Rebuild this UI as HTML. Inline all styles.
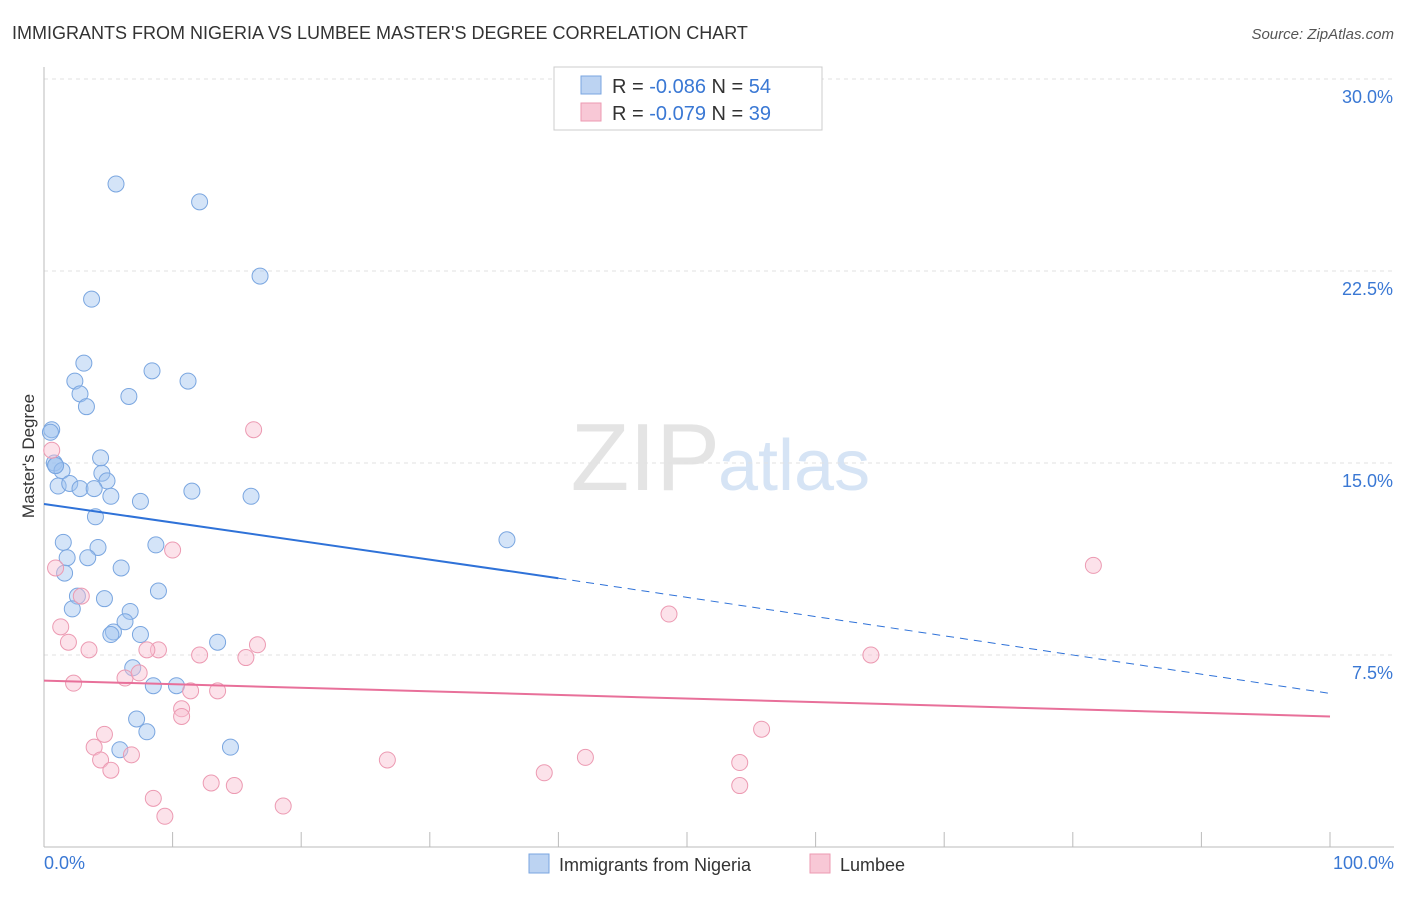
<!DOCTYPE html>
<html><head><meta charset="utf-8">
<style>
body{margin:0;background:#fff;font-family:"Liberation Sans",sans-serif;}
svg text{font-family:"Liberation Sans",sans-serif;}
</style></head>
<body>
<svg id="chart" width="1406" height="892" xmlns="http://www.w3.org/2000/svg">
<text x="12" y="39" font-size="18" fill="#333">IMMIGRANTS FROM NIGERIA VS LUMBEE MASTER'S DEGREE CORRELATION CHART</text>
<text x="1394" y="39" font-size="15" fill="#555" font-style="italic" text-anchor="end">Source: ZipAtlas.com</text>
<text x="720" y="490" font-size="96" fill="#e4e4e4" text-anchor="end" font-family="Liberation Serif">ZIP</text>
<text x="718" y="490" font-size="72" fill="#d6e4f5">atlas</text>
<g id="grid"></g>
<g id="axes"></g>
<g id="marks"></g>
<text transform="translate(34,456) rotate(-90)" font-size="17" fill="#333" text-anchor="middle">Master's Degree</text>
<text x="44" y="869" font-size="18" fill="#3a78d4">0.0%</text>
<text x="1394" y="869" font-size="18" fill="#3a78d4" text-anchor="end">100.0%</text>
<g>
<rect x="554" y="67" width="268" height="63" fill="#fff" stroke="#ccc"/>
<rect x="581" y="76" width="20" height="18" fill="#bcd3f2" stroke="#7aa6e0"/>
<text x="612" y="93" font-size="20" fill="#333">R = <tspan fill="#3a78d4">-0.086</tspan>   N = <tspan fill="#3a78d4">54</tspan></text>
<rect x="581" y="103" width="20" height="18" fill="#f8c8d6" stroke="#ec9ab2"/>
<text x="612" y="120" font-size="20" fill="#333">R = <tspan fill="#3a78d4">-0.079</tspan>   N = <tspan fill="#3a78d4">39</tspan></text>
</g>
<g>
<rect x="529" y="854" width="20" height="19" fill="#bcd3f2" stroke="#7aa6e0"/>
<text x="559" y="871" font-size="18" fill="#333">Immigrants from Nigeria</text>
</g>
<g>
<rect x="810" y="854" width="20" height="19" fill="#f8c8d6" stroke="#ec9ab2"/>
<text x="840" y="871" font-size="18" fill="#333">Lumbee</text>
</g>
</svg>
<script>
const yTicks=[7.5,15,22.5,30];
const yTickLabels=["7.5%","15.0%","22.5%","30.0%"];
const xTicks=[0,10,20,30,40,50,60,70,80,90,100];
const nigeriaX=[5.6,12.1,16.8,3.7,3.1,2.4,8.4,11.2,2.8,6.6,3.3,0.6,0.5,0.8,0.9,1.4,4.4,4.5,4.9,1.1,2.0,2.8,3.9,5.2,7.5,11.5,16.1,4.0,36.0,1.5,1.8,4.2,3.4,8.7,1.6,6.0,8.9,2.6,4.7,2.2,6.7,6.3,5.4,5.2,7.5,13.5,6.9,8.5,10.3,7.2,8.0,5.9,14.5,0.9];
const nigeriaY=[25.9,25.2,22.3,21.4,18.9,18.2,18.6,18.2,17.7,17.6,17.2,16.3,16.2,15.0,14.9,14.7,15.2,14.6,14.3,14.1,14.2,14.0,14.0,13.7,13.5,13.9,13.7,12.9,12.0,11.9,11.3,11.7,11.3,11.8,10.7,10.9,10.0,9.8,9.7,9.3,9.2,8.8,8.4,8.3,8.3,8.0,7.0,6.3,6.3,5.0,4.5,3.8,3.9,14.9];
const lumbeeX=[16.3,0.6,0.9,10.0,2.9,1.3,1.9,3.5,8.9,8.0,12.1,15.7,16.6,48.6,81.6,64.3,2.3,6.3,7.4,11.4,13.5,10.7,10.7,4.7,3.9,4.4,6.8,5.2,26.7,42.1,38.9,55.8,54.1,54.1,13.0,14.8,18.6,8.5,9.4];
const lumbeeY=[16.3,15.5,10.9,11.6,9.8,8.6,8.0,7.7,7.7,7.7,7.5,7.4,7.9,9.1,11.0,7.5,6.4,6.6,6.8,6.1,6.1,5.4,5.1,4.4,3.9,3.4,3.6,3.0,3.4,3.5,2.9,4.6,3.3,2.4,2.5,2.4,1.6,1.9,1.2];
const nigeriaTrend=[13.4,10.5,6.0]; // at x=0, solid end, 100
const nigeriaSolidEnd=40;
const lumbeeTrend=[6.5,5.1];

const X0=44,X1=1330,Y0=847,YS=25.6;
const sx=v=>X0+(X1-X0)*v/100;
const sy=v=>Y0-v*YS;
const NS="http://www.w3.org/2000/svg";
function mk(tag,attrs,parent){const e=document.createElementNS(NS,tag);for(const k in attrs)e.setAttribute(k,attrs[k]);parent.appendChild(e);return e;}
const grid=document.getElementById('grid'),axes=document.getElementById('axes'),marks=document.getElementById('marks');
yTicks.forEach((t,i)=>{
 const l=mk('line',{x1:X0,x2:1394,y1:sy(t),y2:sy(t),stroke:'#e2e2e2','stroke-dasharray':'4,4'},grid);
 
 
 const tx=mk('text',{x:1393,y:sy(t)+24,'font-size':18,fill:'#3a78d4','text-anchor':'end'},grid);
 tx.textContent=yTickLabels[i];
 
 
});
const ax=mk('line',{x1:X0,x2:X0,y1:67,y2:Y0,stroke:'#bbb'},axes);


const bx=mk('line',{x1:X0,x2:1394,y1:Y0,y2:Y0,stroke:'#bbb'},axes);


xTicks.forEach(t=>{
 const l=mk('line',{x1:sx(t),x2:sx(t),y1:832,y2:Y0,stroke:'#bbb'},axes);
 
 
});
nigeriaX.forEach((x,i)=>{
 const c=mk('circle',{cx:sx(x),cy:sy(nigeriaY[i]),r:8,fill:'rgba(160,195,240,0.45)',stroke:'#7aa6e0','stroke-width':1},marks);
 
 
});
lumbeeX.forEach((x,i)=>{
 const c=mk('circle',{cx:sx(x),cy:sy(lumbeeY[i]),r:8,fill:'rgba(248,190,208,0.45)',stroke:'#ec9ab2','stroke-width':1},marks);
 
 
});
const t1=mk('line',{x1:sx(0),y1:sy(nigeriaTrend[0]),x2:sx(nigeriaSolidEnd),y2:sy(nigeriaTrend[1]),stroke:'#2f72d8','stroke-width':2},marks);


const t2=mk('line',{x1:sx(nigeriaSolidEnd),y1:sy(nigeriaTrend[1]),x2:sx(100),y2:sy(nigeriaTrend[2]),stroke:'#2f72d8','stroke-width':1,'stroke-dasharray':'8,6'},marks);


const t3=mk('line',{x1:sx(0),y1:sy(lumbeeTrend[0]),x2:sx(100),y2:sy(lumbeeTrend[1]),stroke:'#e8709a','stroke-width':2},marks);


</script>
</body></html>
